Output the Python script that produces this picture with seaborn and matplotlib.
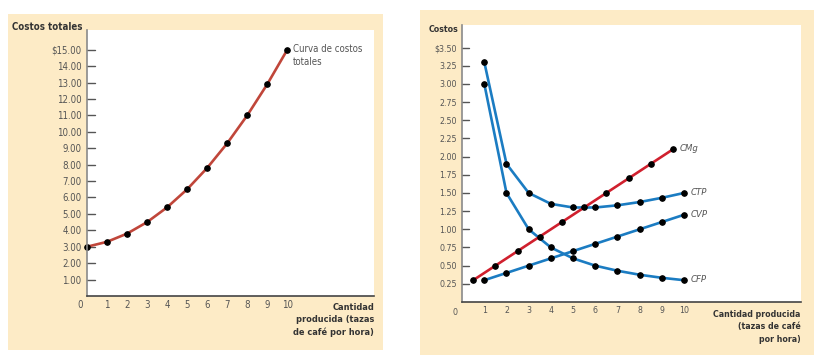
import matplotlib
matplotlib.use("Agg")
import matplotlib.pyplot as plt
from matplotlib import font_manager
import seaborn as sns
import pandas as pd
from matplotlib.patches import Rectangle

# ---- data ----
q_total = [0, 1, 2, 3, 4, 5, 6, 7, 8, 9, 10]
costo_total = [3.0, 3.3, 3.8, 4.5, 5.4, 6.5, 7.8, 9.3, 11.0, 12.9, 15.0]

q_avg = [1, 2, 3, 4, 5, 6, 7, 8, 9, 10]
cfp = [3.0, 1.5, 1.0, 0.75, 0.6, 0.5, 0.43, 0.375, 0.333, 0.3]
cvp = [0.3, 0.4, 0.5, 0.6, 0.7, 0.8, 0.9, 1.0, 1.1, 1.2]
ctp = [3.3, 1.9, 1.5, 1.35, 1.3, 1.3, 1.33, 1.375, 1.433, 1.5]
q_cmg = [0.5, 1.5, 2.5, 3.5, 4.5, 5.5, 6.5, 7.5, 8.5, 9.5]
cmg = [0.3, 0.5, 0.7, 0.9, 1.1, 1.3, 1.5, 1.7, 1.9, 2.1]

left_yticks = [1, 2, 3, 4, 5, 6, 7, 8, 9, 10, 11, 12, 13, 14, 15]
left_yticklabels = ["1.00", "2.00", "3.00", "4.00", "5.00", "6.00", "7.00", "8.00",
                    "9.00", "10.00", "11.00", "12.00", "13.00", "14.00", "$15.00"]
right_yticks = [0.25, 0.5, 0.75, 1.0, 1.25, 1.5, 1.75, 2.0, 2.25, 2.5, 2.75, 3.0, 3.25, 3.5]
right_yticklabels = ["0.25", "0.50", "0.75", "1.00", "1.25", "1.50", "1.75", "2.00",
                     "2.25", "2.50", "2.75", "3.00", "3.25", "$3.50"]
xticks = [1, 2, 3, 4, 5, 6, 7, 8, 9, 10]

sns.set_style("white")

# pick a condensed face if one is installed
entries = font_manager.fontManager.ttflist
names = {f.name for f in entries}
fs = 1.0
if "Liberation Sans Narrow" in names:
    plt.rcParams['font.family'] = ['Liberation Sans Narrow', 'DejaVu Sans']
elif any(f.name == "DejaVu Sans" and "condensed" in str(f.stretch).lower() for f in entries):
    plt.rcParams['font.family'] = ['DejaVu Sans']
    plt.rcParams['font.stretch'] = 'condensed'
elif "Liberation Sans" in names:
    plt.rcParams['font.family'] = ['Liberation Sans', 'DejaVu Sans']
else:
    plt.rcParams['font.family'] = ['DejaVu Sans']
    fs = 0.9

BEIGE = "#fdebc6"
BROWNRED = "#c0463a"
RED = "#d0202e"
BLUE = "#1b7cc2"
TXT = "#555555"
DARK = "#333333"
L_TICK_FS = 6.9 * fs
L_LAB_FS = 6.6 * fs
R_TICK_FS = 6.3 * fs
R_LAB_FS = 6.3 * fs

fig = plt.figure(figsize=(8.14, 3.64), dpi=100)
fig.patches.append(Rectangle((0.0098, 0.0385), 0.4607, 0.923, transform=fig.transFigure,
                             facecolor=BEIGE, edgecolor="none", zorder=-10))
fig.patches.append(Rectangle((0.516, 0.0247), 0.484, 0.9478, transform=fig.transFigure,
                             facecolor=BEIGE, edgecolor="none", zorder=-10))

ax1 = fig.add_axes([0.1069, 0.1868, 0.3526, 0.7308])
ax2 = fig.add_axes([0.5677, 0.1703, 0.4160, 0.7610])

def style(ax, size):
    ax.set_facecolor("white")
    for s in ["top", "right"]:
        ax.spines[s].set_visible(False)
    ax.spines["left"].set_color("#8a8a8a")
    ax.spines["bottom"].set_color("#444444")
    ax.spines["left"].set_linewidth(1.2)
    ax.spines["bottom"].set_linewidth(1.2)
    ax.tick_params(axis="both", direction="in", length=5, width=1.1, color="#666666",
                   labelsize=size, labelcolor=TXT, pad=3)
    ax.tick_params(axis="y", direction="out", length=0, pad=4)
    ax.set_xlabel("")
    ax.set_ylabel("")

LW = 1.9
MS = 4.0

# ---- left panel ----
df1 = pd.DataFrame({"q": q_total, "c": costo_total})
sns.lineplot(data=df1, x="q", y="c", ax=ax1, color=BROWNRED, linewidth=LW,
             marker="o", markersize=MS, markerfacecolor="black", markeredgecolor="black",
             clip_on=False)
ax1.set_xlim(0, 14.33)
ax1.set_ylim(0, 16.2)
ax1.set_xticks(xticks)
ax1.set_xticklabels([str(v) for v in xticks])
ax1.set_yticks(left_yticks)
ax1.set_yticklabels(left_yticklabels)
style(ax1, L_TICK_FS)
for t in left_yticks:
    ax1.plot([0, 0.42], [t, t], color="#555555", lw=1.0, clip_on=False, zorder=1)
ax1.annotate("0", xy=(0, 0), xycoords="data", xytext=(-5, -3), textcoords="offset points",
             ha="center", va="top", fontsize=L_TICK_FS, color=TXT)
ax1.text(-0.015, 1.01, "Costos totales", transform=ax1.transAxes, ha="right", va="center",
         fontsize=L_LAB_FS + 0.3, fontweight="bold", color=DARK)
ax1.text(1.0, -0.025, "Cantidad\nproducida (tazas\nde café por hora)", transform=ax1.transAxes,
         ha="right", va="top", fontsize=L_LAB_FS, fontweight="bold", color=DARK, linespacing=1.5)
ax1.annotate("Curva de costos\ntotales", xy=(10, 15.0), xytext=(4, 4), textcoords="offset points",
             ha="left", va="top", fontsize=L_TICK_FS, color=TXT, linespacing=1.4)

# ---- right panel ----
series = [
    (q_avg, cfp, BLUE, "CFP"),
    (q_avg, cvp, BLUE, "CVP"),
    (q_avg, ctp, BLUE, "CTP"),
    (q_cmg, cmg, RED, "CMg"),
]
for xs, ys, col, name in series:
    d = pd.DataFrame({"q": xs, "c": ys})
    sns.lineplot(data=d, x="q", y="c", ax=ax2, color=col, linewidth=LW,
                 marker="o", markersize=MS, markerfacecolor="black", markeredgecolor="black")
    ax2.annotate(name, xy=(xs[-1], ys[-1]), xytext=(5, 0.5), textcoords="offset points",
                 ha="left", va="center", fontsize=R_TICK_FS + 0.5, color=TXT, style="italic")

ax2.set_xlim(0, 15.26)
ax2.set_ylim(0, 3.81)
ax2.set_xticks(xticks)
ax2.set_xticklabels([str(v) for v in xticks])
ax2.set_yticks(right_yticks)
ax2.set_yticklabels(right_yticklabels)
style(ax2, R_TICK_FS)
for t in right_yticks:
    ax2.plot([0, 0.32], [t, t], color="#555555", lw=1.0, clip_on=False, zorder=1)
ax2.annotate("0", xy=(0, 0), xycoords="data", xytext=(-5, -4), textcoords="offset points",
             ha="center", va="top", fontsize=R_TICK_FS, color=TXT)
ax2.text(-0.01, 0.985, "Costos", transform=ax2.transAxes, ha="right", va="center",
         fontsize=R_LAB_FS, fontweight="bold", color=DARK)
ax2.text(1.0, -0.03, "Cantidad producida\n(tazas de café\npor hora)", transform=ax2.transAxes,
         ha="right", va="top", fontsize=R_LAB_FS, fontweight="bold", color=DARK, linespacing=1.45)

fig.savefig("out.png", dpi=100, facecolor="white")
